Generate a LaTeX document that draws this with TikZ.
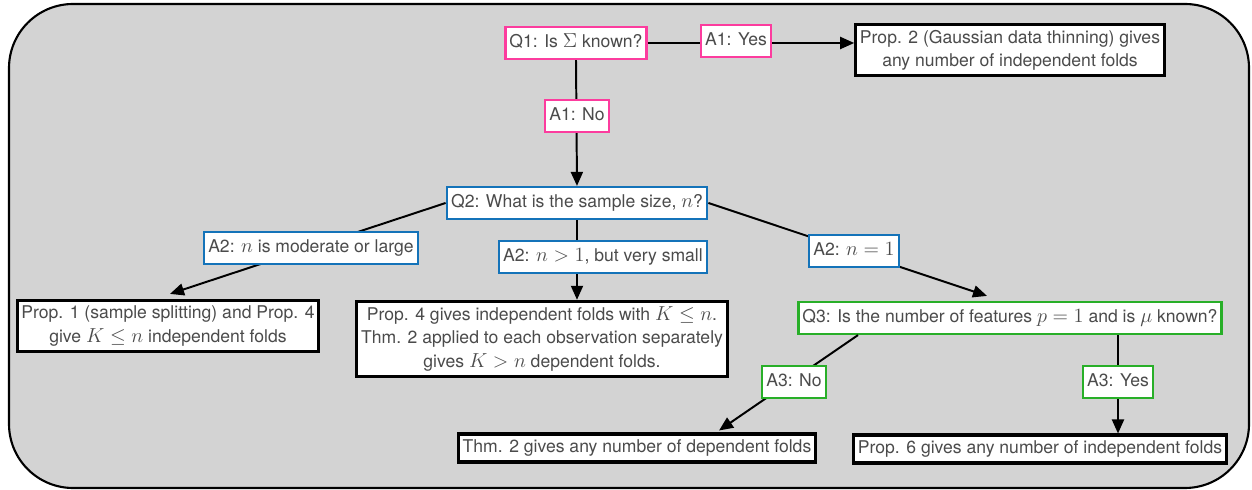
\documentclass[tikz,border=0pt]{standalone}
\usepackage{fontspec}
\setmainfont{TeX Gyre Heros}
\usepackage{amsmath}
\usepackage{amssymb}
\usetikzlibrary{arrows.meta}
\usetikzlibrary{calc}
\usepackage{xcolor}
\DeclareMathSizes{12.5}{14}{10}{8}
\definecolor{panel gray}{RGB}{211,211,211}
\definecolor{q pink}{RGB}{252,60,158}
\definecolor{q blue}{RGB}{20,115,185}
\definecolor{q green}{RGB}{40,175,40}
\definecolor{text gray}{RGB}{75,75,75}

\tikzset{
  box/.style={draw, fill=white, text=text gray, align=center, inner xsep=3pt, inner ysep=4pt,
    font=\fontsize{12.5}{16.5}\selectfont},
  outcome/.style={box, line width=2.2pt},
  tag/.style={box, line width=1.8pt, text height=9.5pt, text depth=3pt, inner ysep=5pt},
  pinkbox/.style={tag, draw=q pink},
  bluebox/.style={tag, draw=q blue},
  greenbox/.style={tag, draw=q green},
  link/.style={line width=1.4pt, -{Triangle[length=0.35cm,width=0.3cm]}},
}

\begin{document}
\begin{tikzpicture}[x=0.025cm, y=-0.025cm]
			\useasboundingbox (0,0) rectangle (1252,490);
			\draw[fill=panel gray, line width=1.5pt, rounded corners=1.6cm] (9,4) rectangle (1249,488);
			% questions and outcomes
			\node[pinkbox] (q1) at (576,43) {Q1: Is $\Sigma$ known?};
			\node[outcome] (p2) at (1010,50) {Prop. 2 (Gaussian data thinning) gives\\any number of independent folds};
			\node[bluebox] (q2) at (577,203) {Q2: What is the sample size, $n$?};
			\node[outcome] (p1) at (168,326) {Prop. 1 (sample splitting) and Prop. 4\\give $K \leq n$ independent folds};
			\node[outcome] (p4) at (542,339) {Prop. 4 gives independent folds with $K \leq n$.\\Thm. 2 applied to each observation separately\\gives $K > n$ dependent folds.};
			\node[greenbox] (q3) at (1010,318) {Q3: Is the number of features $p = 1$ and is $\mu$ known?};
			\node[outcome] (t2) at (637,448) {Thm. 2 gives any number of dependent folds};
			\node[outcome] (p6) at (1040,449) {Prop. 6 gives any number of independent folds};
			% connectors
			\draw[link] (q1.east) -- (q1.east -| p2.west);
			\draw[link] (q1.south) -- (q2.north);
			\draw[link] (q2.west) -- ($(p1.north)+(2,-5)$);
			\draw[link] (q2.south) -- (q2.south |- p4.north);
			\draw[link] (q2.east) -- ($(q3.north)+(-23,-5)$);
			\draw[link] ($(q3.south west)+(61,0)$) -- ($(t2.north east)+(-98,-2)$);
			\draw[link] ($(q3.south west)+(321,0)$) coordinate (q3yes) -- (q3yes |- p6.north);
			% answers
			\node[pinkbox] (a1yes) at (736,41) {A1: Yes};
			\node[pinkbox] (a1no) at (577,116) {A1: No};
			\node[bluebox] (a2large) at (311,248) {A2: $n$ is moderate or large};
			\node[bluebox] (a2small) at (603,257) {A2: $n > 1$, but very small};
			\node[bluebox] (a2one) at (854,251) {A2: $n = 1$};
			\node[greenbox] (a3no) at (794,382) {A3: No};
			\node[greenbox] (a3yes) at (1118,382) {A3: Yes};
		\end{tikzpicture}
\end{document}
